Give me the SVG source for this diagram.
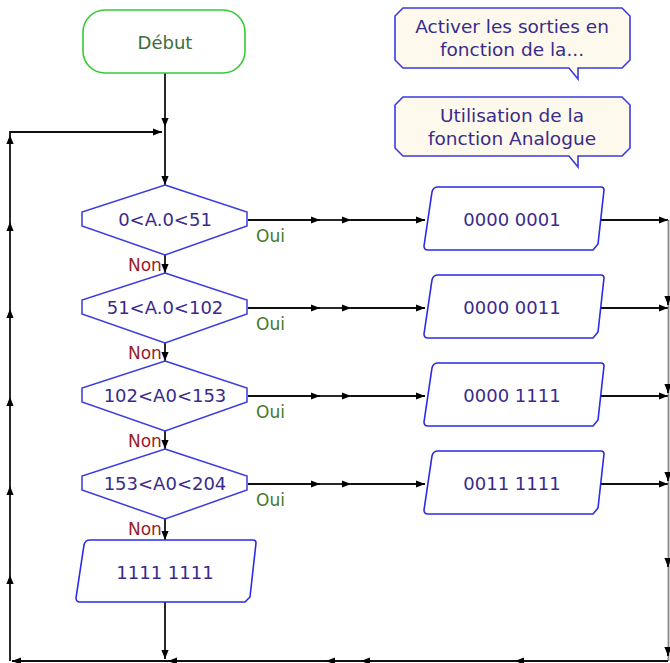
<svg xmlns="http://www.w3.org/2000/svg" width="670" height="663" viewBox="0 0 670 663">
<defs>
<marker id="ah" viewBox="0 0 10 10" refX="10" refY="5" markerWidth="9" markerHeight="9" markerUnits="userSpaceOnUse" orient="auto">
<path d="M0,1 L10,5 L0,9 Z" fill="#000"/>
</marker>
<style>
.t{font-family:"DejaVu Sans",sans-serif;font-size:18px;fill:#3a2a8a;text-anchor:middle}
.n{font-size:18.5px}
.oui{font-family:"DejaVu Sans",sans-serif;font-size:17px;fill:#4a7a2a}
.non{font-family:"DejaVu Sans",sans-serif;font-size:17px;fill:#9a1a2a}
.dec{fill:#fff;stroke:#3a3ae0;stroke-width:1.5}
.io{fill:#fff;stroke:#2a2ae8;stroke-width:1.6}
.com{fill:#fdf9ec;stroke:#3a3ae0;stroke-width:1.6}
.c line{stroke:#111;stroke-width:1.8;marker-end:url(#ah)}
.c line.g{stroke:#888;marker-end:none}
</style>
</defs>
<rect width="670" height="663" fill="#fff"/>

<g id="connectors" class="c">
<line x1="165" y1="73" x2="165" y2="127"/>
<line x1="165" y1="127" x2="165" y2="185"/>
<line x1="10" y1="132" x2="162" y2="132"/>
<line x1="165" y1="255" x2="165" y2="273"/>
<line x1="165" y1="343" x2="165" y2="361"/>
<line x1="165" y1="431" x2="165" y2="449"/>
<line x1="165" y1="519" x2="165" y2="540"/>
<line x1="165" y1="602" x2="165" y2="659"/>
<line x1="248" y1="220" x2="320" y2="220"/>
<line x1="320" y1="220" x2="351" y2="220"/>
<line x1="351" y1="220" x2="425" y2="220"/>
<line x1="248" y1="308" x2="320" y2="308"/>
<line x1="320" y1="308" x2="351" y2="308"/>
<line x1="351" y1="308" x2="425" y2="308"/>
<line x1="248" y1="396" x2="320" y2="396"/>
<line x1="320" y1="396" x2="351" y2="396"/>
<line x1="351" y1="396" x2="425" y2="396"/>
<line x1="248" y1="484" x2="320" y2="484"/>
<line x1="320" y1="484" x2="351" y2="484"/>
<line x1="351" y1="484" x2="425" y2="484"/>
<line x1="600" y1="220" x2="668" y2="220"/>
<line x1="600" y1="308" x2="668" y2="308"/>
<line x1="600" y1="396" x2="668" y2="396"/>
<line x1="597" y1="484" x2="668" y2="484"/>
<line class="g" x1="668.5" y1="220" x2="668.5" y2="661"/>
<line x1="668" y1="296" x2="668" y2="305"/>
<line x1="668" y1="384" x2="668" y2="393"/>
<line x1="668" y1="472" x2="668" y2="481"/>
<line x1="668" y1="558" x2="668" y2="567"/>
<line x1="668" y1="647" x2="668" y2="656"/>
<line x1="668" y1="661" x2="515" y2="661"/>
<line x1="515" y1="661" x2="361" y2="661"/>
<line x1="361" y1="661" x2="326" y2="661"/>
<line x1="326" y1="661" x2="168" y2="661"/>
<line x1="168" y1="661" x2="12" y2="661"/>
<line x1="10" y1="661" x2="10" y2="575"/>
<line x1="10" y1="575" x2="10" y2="486"/>
<line x1="10" y1="486" x2="10" y2="397"/>
<line x1="10" y1="397" x2="10" y2="309"/>
<line x1="10" y1="309" x2="10" y2="222"/>
<line x1="10" y1="222" x2="10" y2="135"/>
<line x1="10" y1="135" x2="10" y2="131" style="marker-end:none"/>
</g>

<g id="debut">
<rect x="83" y="10" width="162" height="63" rx="22" fill="#fff" stroke="#33cc33" stroke-width="1.6"/>
<text x="165" y="49" class="t" style="fill:#3a6e3a">Début</text>
</g>

<g id="note1">
<path class="com" d="M403,8 L622,8 L630,16 L630,60 L622,68 L578,68 L578,79 L569,68 L403,68 L395,60 L395,16 Z"/>
<text x="512" y="33" class="t n">Activer les sorties en</text>
<text x="512" y="56" class="t n">fonction de la...</text>
</g>

<g id="note2">
<path class="com" d="M403,97 L622,97 L630,105 L630,148 L622,156 L578,156 L578,167 L569,156 L403,156 L395,148 L395,105 Z"/>
<text x="512" y="122" class="t n">Utilisation de la</text>
<text x="512" y="145" class="t n">fonction Analogue</text>
</g>

<g id="cond1">
<polygon class="dec" points="165,185 247,212 247,226 165,255 82,226 82,212"/>
<text x="165" y="226" class="t">0&lt;A.0&lt;51</text>
<text x="256" y="242" class="oui">Oui</text>
<text x="128" y="271" class="non">Non</text>
</g>

<g id="cond2">
<polygon class="dec" points="165,273 247,300 247,314 165,343 82,314 82,300"/>
<text x="165" y="314" class="t">51&lt;A.0&lt;102</text>
<text x="256" y="330" class="oui">Oui</text>
<text x="128" y="359" class="non">Non</text>
</g>

<g id="cond3">
<polygon class="dec" points="165,361 247,388 247,402 165,431 82,402 82,388"/>
<text x="165" y="402" class="t">102&lt;A0&lt;153</text>
<text x="256" y="418" class="oui">Oui</text>
<text x="128" y="447" class="non">Non</text>
</g>

<g id="cond4">
<polygon class="dec" points="165,449 247,476 247,490 165,519 82,490 82,476"/>
<text x="165" y="490" class="t">153&lt;A0&lt;204</text>
<text x="256" y="506" class="oui">Oui</text>
<text x="128" y="535" class="non">Non</text>
</g>

<g id="out1">
<path class="io" d="M438,187 L601,187 Q604,187 604,190 L598,244 L593,250 L428,250 Q424,250 424,246 L432,192 Q433,187 438,187 Z"/>
<text x="512" y="226" class="t">0000 0001</text>
</g>
<g id="out2">
<path class="io" d="M438,275 L601,275 Q604,275 604,278 L598,332 L593,338 L428,338 Q424,338 424,334 L432,280 Q433,275 438,275 Z"/>
<text x="512" y="314" class="t">0000 0011</text>
</g>
<g id="out3">
<path class="io" d="M438,363 L601,363 Q604,363 604,366 L598,420 L593,426 L428,426 Q424,426 424,422 L432,368 Q433,363 438,363 Z"/>
<text x="512" y="402" class="t">0000 1111</text>
</g>
<g id="out4">
<path class="io" d="M438,451 L601,451 Q604,451 604,454 L598,508 L593,514 L428,514 Q424,514 424,510 L432,456 Q433,451 438,451 Z"/>
<text x="512" y="490" class="t">0011 1111</text>
</g>
<g id="out5">
<path class="io" d="M90,540 L253,540 Q256,540 256,543 L250,597 L245,602 L80,602 Q76,602 76,598 L84,545 Q85,540 90,540 Z"/>
<text x="165" y="579" class="t">1111 1111</text>
</g>
</svg>
